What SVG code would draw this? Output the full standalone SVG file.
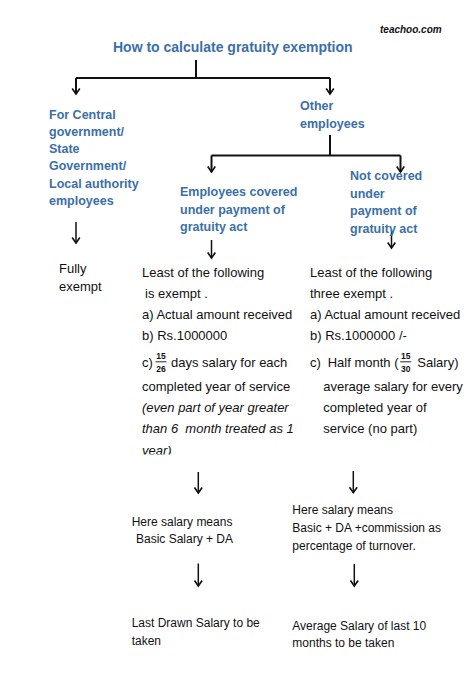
<svg xmlns="http://www.w3.org/2000/svg" width="474" height="685" viewBox="0 0 474 685">
<defs>
<marker id="ah" markerUnits="userSpaceOnUse" orient="auto" refX="0" refY="0" markerWidth="10" markerHeight="10" overflow="visible">
<path d="M-5.5,-3.8 L0,0 L-5.5,3.8" fill="none" stroke="#111" stroke-width="1.6"/>
</marker>
<clipPath id="cut"><rect x="0" y="0" width="474" height="454.5"/></clipPath>
</defs>
<style>
.h{font-family:"Liberation Sans",Arial,sans-serif;font-weight:bold;fill:#3b6fa8;font-size:12.5px}
.t{font-family:"Liberation Sans",Arial,sans-serif;fill:#111;font-size:13px}
.s{font-family:"Liberation Sans",Arial,sans-serif;fill:#111;font-size:12px}
.i{font-style:italic}
.f{font-family:"Liberation Sans",Arial,sans-serif;font-weight:bold;fill:#111;font-size:8.5px}
.c{fill:none;stroke:#111;stroke-width:2}
.a{fill:none;stroke:#111;stroke-width:1.5}
</style>
<rect width="474" height="685" fill="#fff"/>
<text x="380" y="33" font-family="Liberation Sans,Arial,sans-serif" font-size="10" font-weight="bold" font-style="italic" fill="#111">teachoo.com</text>
<g id="title"><text class="h" x="113" y="52" style="font-size:14px">How to calculate gratuity exemption</text></g>
<g id="connectors">
<path class="c" d="M196,60 V78 M76,78 H330"/>
<path class="c" d="M76,78 V94" marker-end="url(#ah)"/>
<path class="c" d="M330,78 V94" marker-end="url(#ah)"/>
<path class="c" d="M330,135 V155.5 M211.5,155.5 H400.5"/>
<path class="c" d="M211.5,155.5 V172" marker-end="url(#ah)"/>
<path class="c" d="M400.5,155.5 V172" marker-end="url(#ah)"/>
<path class="a" d="M76,222 V243" marker-end="url(#ah)"/>
<path class="a" d="M211.5,240 V258" marker-end="url(#ah)"/>
<path class="a" d="M391.5,230 V248" marker-end="url(#ah)"/>
<path class="a" d="M198.3,472 V493" marker-end="url(#ah)"/>
<path class="a" d="M353.3,471 V492.7" marker-end="url(#ah)"/>
<path class="a" d="M198.3,563.5 V586" marker-end="url(#ah)"/>
<path class="a" d="M354.3,564 V586" marker-end="url(#ah)"/>
</g>
<g id="central">
<text class="h" x="49" y="118.5">For Central</text>
<text class="h" x="49" y="135.8">government/</text>
<text class="h" x="49" y="153.1">State</text>
<text class="h" x="49" y="170.4">Government/</text>
<text class="h" x="49" y="187.7">Local authority</text>
<text class="h" x="49" y="205">employees</text>
</g>
<g id="other">
<text class="h" x="300" y="110">Other</text>
<text class="h" x="300" y="127.7">employees</text>
</g>
<g id="covered">
<text class="h" x="180" y="196">Employees covered</text>
<text class="h" x="180" y="213.5">under payment of</text>
<text class="h" x="180" y="231">gratuity act</text>
</g>
<g id="notcovered">
<text class="h" x="350" y="180">Not covered</text>
<text class="h" x="350" y="197.5">under</text>
<text class="h" x="350" y="215">payment of</text>
<text class="h" x="350" y="232.5">gratuity act</text>
</g>
<g id="fully">
<text class="t" x="59" y="273.3">Fully</text>
<text class="t" x="59" y="291">exempt</text>
</g>
<g id="least-covered">
<text class="t" x="142" y="277.3">Least of the following</text>
<text class="t" x="145" y="297.7">is exempt .</text>
<text class="t" x="142" y="319">a) Actual amount received</text>
<text class="t" x="142" y="340">b) Rs.1000000</text>
<text class="t" x="142" y="367.3">c)</text>
<text class="f" x="161" y="359.3" text-anchor="middle">15</text>
<line x1="155.5" y1="361.8" x2="166.5" y2="361.8" stroke="#111" stroke-width="0.9"/>
<text class="f" x="161" y="372" text-anchor="middle">26</text>
<text class="t" x="171" y="367.3">days salary for each</text>
<text class="t" x="142" y="391">completed year of service</text>
<text class="t i" x="142" y="411.7">(even part of year greater</text>
<text class="t i" x="142" y="433.3">than 6&#160; month treated as 1</text>
<text class="t i" x="142" y="455" clip-path="url(#cut)">year)</text>
</g>
<g id="least-notcovered">
<text class="t" x="310" y="277.3">Least of the following</text>
<text class="t" x="310" y="297.7">three exempt .</text>
<text class="t" x="310" y="319">a) Actual amount received</text>
<text class="t" x="310" y="340">b) Rs.1000000 /-</text>
<text class="t" x="310" y="367.3">c)</text>
<text class="t" x="327.7" y="367.3">Half month (</text>
<text class="f" x="405.7" y="359.3" text-anchor="middle">15</text>
<line x1="400.2" y1="361.8" x2="411.2" y2="361.8" stroke="#111" stroke-width="0.9"/>
<text class="f" x="405.7" y="372" text-anchor="middle">30</text>
<text class="t" x="417.3" y="367.3">Salary)</text>
<text class="t" x="323.3" y="391">average salary for every</text>
<text class="t" x="323.3" y="411.7">completed year of</text>
<text class="t" x="323.3" y="433.3">service (no part)</text>
</g>
<g id="salary-covered">
<text class="s" x="131.7" y="525.7">Here salary means</text>
<text class="s" x="136" y="543.3">Basic Salary + DA</text>
</g>
<g id="salary-notcovered">
<text class="s" x="292.3" y="514.3">Here salary means</text>
<text class="s" x="292.3" y="532.3">Basic + DA +commission as</text>
<text class="s" x="292.3" y="550">percentage of turnover.</text>
</g>
<g id="last-drawn">
<text class="s" x="131.7" y="627.3">Last Drawn Salary to be</text>
<text class="s" x="131.7" y="645">taken</text>
</g>
<g id="average">
<text class="s" x="292.3" y="630">Average Salary of last 10</text>
<text class="s" x="292.3" y="647.3">months to be taken</text>
</g>
</svg>
